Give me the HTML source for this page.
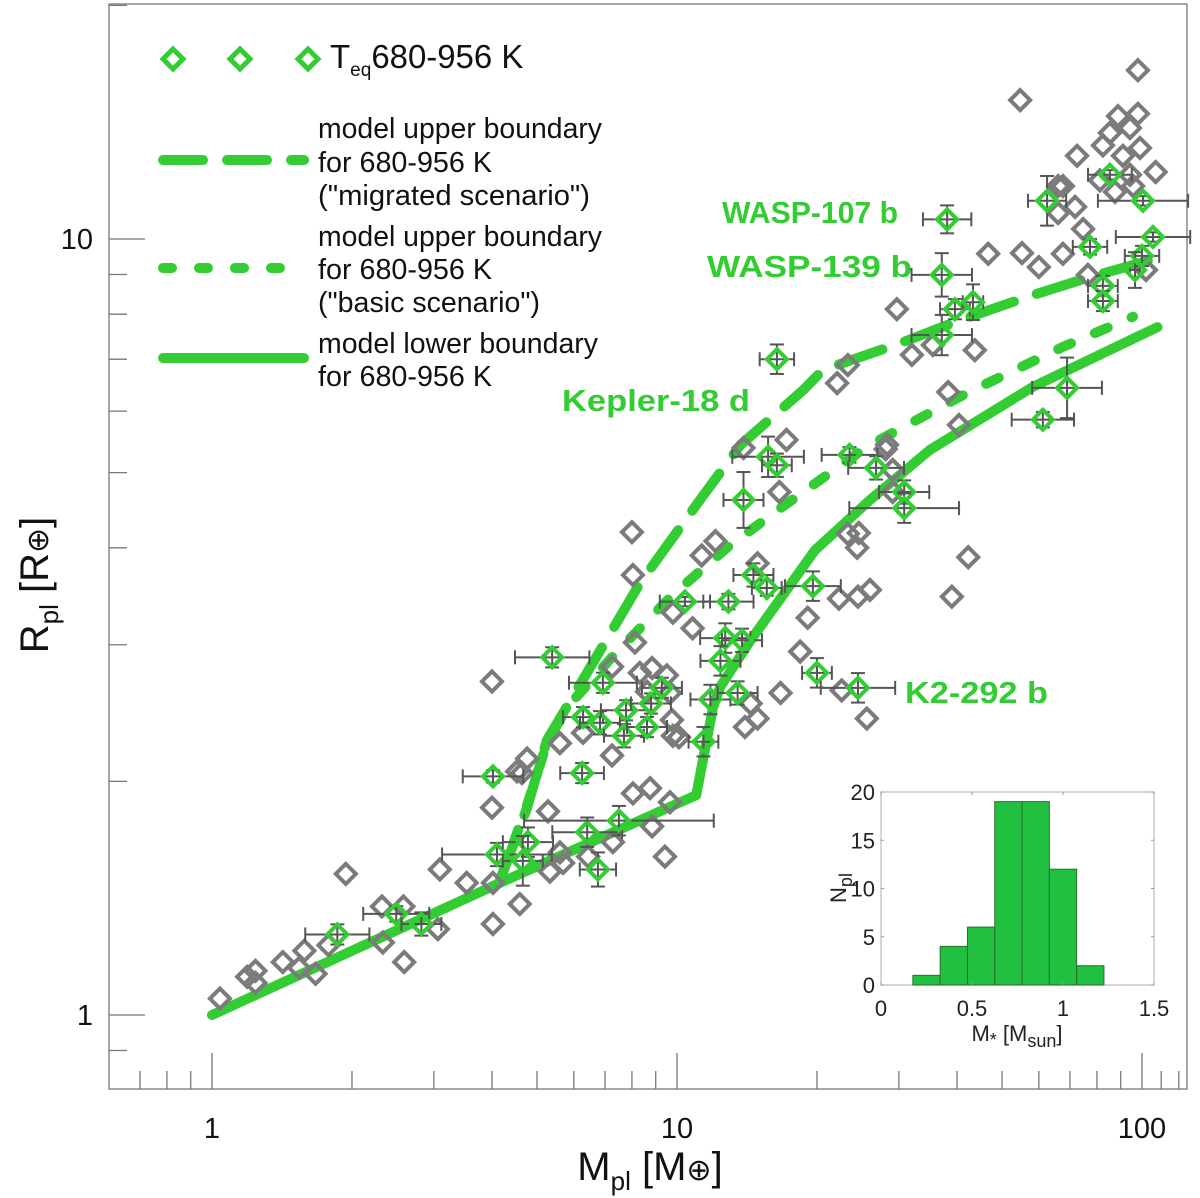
<!DOCTYPE html>
<html><head><meta charset="utf-8"><style>
html,body{margin:0;padding:0;background:#fff;}
svg{display:block;font-family:"Liberation Sans",Arial,sans-serif;}
</style></head><body>
<svg id="chart" width="1200" height="1198" viewBox="0 0 1200 1198" xmlns="http://www.w3.org/2000/svg">
<rect x="0" y="0" width="1200" height="1198" fill="#fff"/>
<g id="axes"></g>
<g id="lines"></g>
<g id="gray"></g>
<g id="green"></g>
<g id="labels">
<text x="722" y="223" font-size="31" font-weight="bold" fill="#33cc33" textLength="176" lengthAdjust="spacingAndGlyphs">WASP-107 b</text>
<text x="707" y="277" font-size="31" font-weight="bold" fill="#33cc33" textLength="205" lengthAdjust="spacingAndGlyphs">WASP-139 b</text>
<text x="562" y="411" font-size="31" font-weight="bold" fill="#33cc33" textLength="188" lengthAdjust="spacingAndGlyphs">Kepler-18 d</text>
<text x="905" y="703" font-size="31" font-weight="bold" fill="#33cc33" textLength="143" lengthAdjust="spacingAndGlyphs">K2-292 b</text>
</g>
<g id="legend">
<text x="330" y="68" font-size="33" fill="#111">T<tspan font-size="19" dy="8">eq</tspan><tspan dy="-8" textLength="152" lengthAdjust="spacingAndGlyphs">680-956 K</tspan></text>
<line x1="163" y1="160" x2="304" y2="160" stroke="#33cc33" stroke-width="10" stroke-linecap="round" stroke-dasharray="40 24"/>
<line x1="163" y1="268" x2="282" y2="268" stroke="#33cc33" stroke-width="10" stroke-linecap="round" stroke-dasharray="9 27"/>
<line x1="163" y1="358" x2="304" y2="358" stroke="#33cc33" stroke-width="10" stroke-linecap="round"/>
<g font-size="29" fill="#111">
<text x="318" y="138" textLength="284" lengthAdjust="spacingAndGlyphs">model upper boundary</text>
<text x="318" y="172" textLength="174" lengthAdjust="spacingAndGlyphs">for 680-956 K</text>
<text x="318" y="205" textLength="272" lengthAdjust="spacingAndGlyphs">("migrated  scenario")</text>
<text x="318" y="246" textLength="284" lengthAdjust="spacingAndGlyphs">model upper boundary</text>
<text x="318" y="279" textLength="174" lengthAdjust="spacingAndGlyphs">for 680-956 K</text>
<text x="318" y="312" textLength="222" lengthAdjust="spacingAndGlyphs">("basic scenario")</text>
<text x="318" y="353" textLength="280" lengthAdjust="spacingAndGlyphs">model lower boundary</text>
<text x="318" y="386" textLength="174" lengthAdjust="spacingAndGlyphs">for 680-956 K</text>
</g>
</g>
<g id="inset"></g>
</svg>
<script>
// ---- main chart data ----
const xTicks = [1, 10, 100];
const yTicks = [1, 10];
const lowerM = [1, 4.16, 11.0, 11.95, 12.4, 14.4, 19.8, 26, 35, 58.3, 108];
const lowerR = [1, 1.48, 1.92, 2.49, 2.65, 3.04, 3.97, 4.61, 5.35, 6.45, 7.7];
const basicM = [4.16, 4.76, 5.25, 5.8, 7.43, 9.8, 12.8, 16.7, 25.6, 42, 67.6, 95.7];
const basicR = [1.49, 1.865, 2.24, 2.49, 2.94, 3.48, 4.0, 4.5, 5.4, 6.33, 7.26, 7.94];
const migM = [4.16, 4.76, 5.25, 6.4, 8.32, 11.2, 13.7, 18.7, 20.6, 30.2, 40.6, 58.3, 77.3, 108];
const migR = [1.49, 1.85, 2.26, 2.76, 3.6, 4.61, 5.43, 6.39, 6.78, 7.34, 7.86, 8.47, 8.93, 9.45];
const grayM = [1.04,1.19,1.24,1.24,1.42,1.58,1.54,1.67,1.78,1.94,2.32,2.58,2.33,2.59,3.06,3.09,3.53,4.02,4.02,4.0,4.59,4.76,4.53,4.64,5.28,5.6,5.69,5.33,6.44,7.28,7.25,8.04,8.75,9.66,8.84,9.42,8.0,8.04,11.3,12.1,9.8,10.8,8.12,4.0,7.25,8.32,8.84,9.51,8.62,9.66,9.75,6.28,5.6,9.8,10.1,14.4,14.9,14.0,16.7,18.4,14.9,13.9,17.2,16.6,23.3,22.1,28.1,29.1,29.1,23.3,24.6,24.4,42.3,39.0,26.0,24.5,22.3,19.1,22.6,25.6,38.3,40.4,32.0,35.5,43.7,29.7,28.3,46.7,55.2,60.0,67.6,76.5,102,66.0,71.8,74.7,66.0,67.6,54.7,98.0,88.8,98.0,85.3,94.2,82.4,99.0,91.0,72.5,107,94.2,81.2,95.7,87.5];
const grayR = [1.05,1.12,1.14,1.10,1.17,1.21,1.15,1.13,1.23,1.52,1.38,1.38,1.24,1.17,1.29,1.54,1.48,1.31,1.48,1.85,1.39,2.14,2.06,2.05,1.83,1.62,1.57,1.53,1.60,1.67,2.16,1.93,1.96,1.88,1.75,1.60,4.19,3.69,3.91,4.08,3.30,3.15,3.02,2.69,2.81,2.76,2.80,2.74,2.61,2.60,2.40,2.31,2.24,2.29,2.28,2.52,2.41,2.35,2.60,2.94,3.82,5.38,5.51,4.72,6.88,6.52,5.36,5.04,4.72,4.17,4.18,4.0,3.89,3.46,3.53,3.46,3.44,3.25,2.62,2.41,6.35,5.76,7.09,7.30,7.19,8.12,5.43,9.57,9.59,9.2,9.57,8.99,9.12,10.8,11.0,10.3,11.7,11.7,15.1,16.5,14.4,14.5,13.7,13.9,13.2,13.1,12.8,12.8,12.2,12.1,11.9,11.7,11.5];
const greenM = [1.86,2.49,2.82,4.10,4.02,6.25,4.78,4.66,6.41,7.5,6.76,5.39,6.93,6.28,6.83,7.77,7.69,8.62,8.79,9.28,10.4,12.9,14.6,15.6,12.7,13.8,12.4,11.8,13.5,11.4,13.9,16.4,15.7,16.4,23.5,26.8,30.8,30.8,19.6,20.0,24.5,38.1,37.1,39.6,43.3,37.1,62.5,85.3,100.5,105.6,77.3,100,96.6,82.4,82.4,69.0,61.2];
const greenR = [1.27,1.35,1.31,1.61,2.03,2.05,1.67,1.58,1.72,1.78,1.54,2.89,2.68,2.42,2.38,2.47,2.29,2.35,2.52,2.64,3.41,3.41,3.69,3.55,3.06,3.04,2.86,2.55,2.60,2.25,4.61,7.0,5.24,5.11,5.27,5.07,4.72,4.50,3.57,2.76,2.64,10.6,8.99,8.12,8.29,7.52,11.2,12.1,11.2,10.06,9.77,9.51,9.12,8.70,8.32,6.43,5.85];
// errors in dex (log10 half-width)
const greenMErr = [0.069,0.071,0.043,0.118,0.065,0.047,0.054,0.043,0.075,0.204,0.039,0.080,0.073,0.043,0.043,0.054,0.043,0.043,0.043,0.043,0.054,0.054,0.043,0.032,0.054,0.043,0.043,0.043,0.043,0.032,0.043,0.037,0.077,0.032,0.060,0.060,0.054,0.118,0.060,0.032,0.080,0.052,0.065,0.032,0.022,0.065,0.041,0.047,0.097,0.080,0.037,0.037,0.011,0.032,0.032,0.075,0.067];
const greenRErr = [0.013,0.010,0.015,0.015,0.008,0.013,0.019,0.032,0.019,0.019,0.022,0.013,0.013,0.013,0.015,0.013,0.015,0.013,0.013,0.013,0.006,0.010,0.015,0.010,0.019,0.015,0.019,0.019,0.015,0.019,0.036,0.019,0.026,0.015,0.010,0.015,0.015,0.019,0.019,0.019,0.019,0.018,0.028,0.013,0.023,0.026,0.032,0.006,0.006,0.006,0.010,0.013,0.023,0.013,0.013,0.039,0.010];
// ---- inset data ----
const binEdges = [0.175,0.325,0.475,0.625,0.775,0.925,1.075,1.225];
const binCounts = [1,4,6,19,19,12,2];
const insetXTicks = [0,0.5,1,1.5];
const insetYTicks = [0,5,10,15,20];

const NS='http://www.w3.org/2000/svg';
function mk(tag, attrs, parent){const e=document.createElementNS(NS,tag);for(const k in attrs)e.setAttribute(k,attrs[k]);parent.appendChild(e);return e;}
const L=109,R=1187,T=4,B=1089;
const x0=212, xDec=465, y0=1015, yDec=776;
function X(m){return x0+Math.log10(m)*xDec;}
function Y(r){return y0-Math.log10(r)*yDec;}

const axes=document.getElementById('axes');
const frame=mk('rect',{x:L,y:T,width:R-L,height:B-T,fill:'none',stroke:'#8a8a8a','stroke-width':1.5},axes);


const xMinor=[0.6,0.7,0.8,0.9,2,3,4,5,6,7,8,9,20,30,40,50,60,70,80,90,110,120];
xMinor.forEach(v=>{const px=X(v);if(px<L||px>R)return;const t=mk('line',{x1:px,y1:B,x2:px,y2:B-18,stroke:'#777','stroke-width':1.3},axes);

});
xTicks.forEach(v=>{const px=X(v);const t=mk('line',{x1:px,y1:B,x2:px,y2:B-36,stroke:'#777','stroke-width':1.3},axes);


const lb=mk('text',{x:px,y:1138,'font-size':29,'text-anchor':'middle',fill:'#111'},axes);lb.textContent=String(v);

});
const yMinor=[0.8,0.9,2,3,4,5,6,7,8,9,20];
yMinor.forEach(v=>{const py=Y(v);if(py<T||py>B)return;const t=mk('line',{x1:L,y1:py,x2:L+18,y2:py,stroke:'#777','stroke-width':1.3},axes);

});
yTicks.forEach(v=>{const py=Y(v);const t=mk('line',{x1:L,y1:py,x2:L+36,y2:py,stroke:'#777','stroke-width':1.3},axes);


const lb=mk('text',{x:93,y:py+10,'font-size':29,'text-anchor':'end',fill:'#111'},axes);lb.textContent=String(v);

});
const xt=mk('text',{x:650,y:1180,'font-size':40,'text-anchor':'middle',fill:'#111'},axes);
xt.innerHTML='M<tspan font-size="26" dy="10">pl</tspan><tspan dy="-10"> [M</tspan><tspan font-size="30">⊕</tspan>]';


const yt=mk('text',{x:0,y:0,'font-size':40,'text-anchor':'middle',fill:'#111',transform:'translate(48,585) rotate(-90)'},axes);
yt.innerHTML='R<tspan font-size="26" dy="10">pl</tspan><tspan dy="-10"> [R</tspan><tspan font-size="30">⊕</tspan>]';



function diamond(g,cx,cy,color,w){return mk('path',{d:`M${cx} ${cy-10}L${cx+10} ${cy}L${cx} ${cy+10}L${cx-10} ${cy}Z`,fill:'none',stroke:color,'stroke-width':w||4},g);}
const gG=document.getElementById('gray');
grayM.forEach((m,i)=>{const d=diamond(gG,X(m),Y(grayR[i]),'#7b7b7b');

});

const gl=document.getElementById('lines');
function poly(M,Rr,dash,name){const pts=M.map((m,i)=>X(m).toFixed(1)+','+Y(Rr[i]).toFixed(1)).join(' ');
const p=mk('polyline',{points:pts,fill:'none',stroke:'#33cc33','stroke-width':10,'stroke-linecap':'round','stroke-linejoin':'round'},gl);
if(dash)p.setAttribute('stroke-dasharray',dash);

}
poly(lowerM,lowerR,null,'lower-boundary-line');
poly(basicM,basicR,'14 26','basic-upper-boundary-line');
poly(migM,migR,'46 24','migrated-upper-boundary-line');

const gGr=document.getElementById('green');
greenM.forEach((m,i)=>{const cx=X(m),cy=Y(greenR[i]);
const g=mk('g',{},gGr);


const x1=X(m/Math.pow(10,greenMErr[i])),x2=X(m*Math.pow(10,greenMErr[i]));
const y1=Y(greenR[i]*Math.pow(10,greenRErr[i])),y2=Y(greenR[i]/Math.pow(10,greenRErr[i]));
const s={stroke:'#555','stroke-width':2};
mk('line',Object.assign({x1:x1,y1:cy,x2:x2,y2:cy},s),g);
mk('line',Object.assign({x1:x1,y1:cy-7,x2:x1,y2:cy+7},s),g);
mk('line',Object.assign({x1:x2,y1:cy-7,x2:x2,y2:cy+7},s),g);
mk('line',Object.assign({x1:cx,y1:y1,x2:cx,y2:y2},s),g);
mk('line',Object.assign({x1:cx-7,y1:y1,x2:cx+7,y2:y1},s),g);
mk('line',Object.assign({x1:cx-7,y1:y2,x2:cx+7,y2:y2},s),g);
diamond(g,cx,cy,'#33cc33');});

const lg=document.getElementById('legend');
[173,240,308].forEach(px=>{const d=diamond(lg,px,59,'#33cc33',5);

});

const ig=document.getElementById('inset');
const iL=881,iR=1154,iT=792,iB=985;
function IX(v){return iL+(v-0)/1.5*(iR-iL);}
function IY(v){return iB-(v/20)*(iB-iT);}
const ibg=mk('rect',{x:iL,y:iT,width:iR-iL,height:iB-iT,fill:'#fff',stroke:'#bbb','stroke-width':1.2},ig);


binCounts.forEach((c,i)=>{const b=mk('rect',{x:IX(binEdges[i]),y:IY(c),width:IX(binEdges[i+1])-IX(binEdges[i]),height:IY(0)-IY(c),fill:'#22c040',stroke:'#2a6e2a','stroke-width':1},ig);

});
insetXTicks.forEach(v=>{const px=IX(v);mk('line',{x1:px,y1:iB,x2:px,y2:iB-3,stroke:'#999'},ig);mk('line',{x1:px,y1:iT,x2:px,y2:iT+3,stroke:'#999'},ig);
const t=mk('text',{x:px,y:1016,'font-size':22,'text-anchor':'middle',fill:'#222'},ig);t.textContent=String(v);

});
insetYTicks.forEach(v=>{const py=IY(v);mk('line',{x1:iL,y1:py,x2:iL+3,y2:py,stroke:'#999'},ig);mk('line',{x1:iR,y1:py,x2:iR-3,y2:py,stroke:'#999'},ig);
const t=mk('text',{x:875,y:py+8,'font-size':22,'text-anchor':'end',fill:'#222'},ig);t.textContent=String(v);

});
const ixl=mk('text',{x:1017,y:1041,'font-size':22,'text-anchor':'middle',fill:'#222'},ig);
ixl.innerHTML='M<tspan font-size="18" dy="5">*</tspan><tspan dy="-5"> [M</tspan><tspan font-size="18" dy="6">sun</tspan><tspan dy="-6">]</tspan>';


const iyl=mk('text',{x:0,y:0,'font-size':22,'text-anchor':'middle',fill:'#222',transform:'translate(846,888) rotate(-90)'},ig);
iyl.innerHTML='N<tspan font-size="18" dy="6">pl</tspan>';


</script>
</body></html>
